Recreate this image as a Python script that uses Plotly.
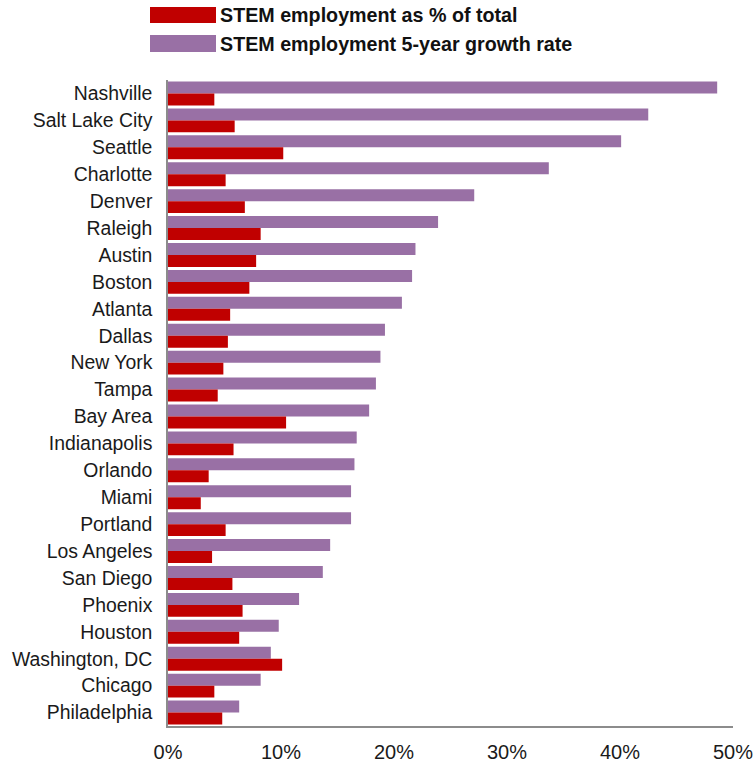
import plotly.graph_objects as go

# Metro areas, ordered by 5-year STEM employment growth
cities = [
    "Nashville", "Salt Lake City", "Seattle", "Charlotte", "Denver", "Raleigh",
    "Austin", "Boston", "Atlanta", "Dallas", "New York", "Tampa", "Bay Area",
    "Indianapolis", "Orlando", "Miami", "Portland", "Los Angeles", "San Diego",
    "Phoenix", "Houston", "Washington, DC", "Chicago", "Philadelphia",
]

# STEM employment 5-year growth rate (%)
growth_rate = [
    48.6, 42.5, 40.1, 33.7, 27.1, 23.9,
    21.9, 21.6, 20.7, 19.2, 18.8, 18.4, 17.8,
    16.7, 16.5, 16.2, 16.2, 14.35, 13.7,
    11.6, 9.8, 9.1, 8.2, 6.3,
]

# STEM employment as % of total employment
share_of_total = [
    4.1, 5.9, 10.2, 5.1, 6.8, 8.2,
    7.8, 7.2, 5.5, 5.3, 4.9, 4.4, 10.45,
    5.8, 3.6, 2.9, 5.1, 3.9, 5.7,
    6.6, 6.3, 10.1, 4.1, 4.8,
]

x_ticks = [0, 10, 20, 30, 40, 50]
x_tick_labels = ["0%", "10%", "20%", "30%", "40%", "50%"]

RED = "#C00000"
PURPLE = "#9970A5"
FONT = "Liberation Sans, Arial, sans-serif"

W, H = 756, 763
L, R, T, B = 168, 23, 80, 37

fig = go.Figure()
fig.add_trace(go.Bar(
    y=cities, x=growth_rate, orientation="h",
    name="STEM employment 5-year growth rate",
    marker=dict(color=PURPLE, line=dict(width=0)),
))
fig.add_trace(go.Bar(
    y=cities, x=share_of_total, orientation="h",
    name="STEM employment as % of total",
    marker=dict(color=RED, line=dict(width=0)),
))

# Legend drawn by hand so the swatches are wide bars
def px_x(p):
    return (p - L) / (W - L - R)

def px_y(p):
    return 1 + (T - p) / (H - T - B)

legend_items = [
    ("STEM employment as % of total", RED, 7, 23),
    ("STEM employment 5-year growth rate", PURPLE, 35, 52),
]
shapes = []
annotations = []
for label, color, y0, y1 in legend_items:
    shapes.append(dict(
        type="rect", xref="paper", yref="paper",
        x0=px_x(150), x1=px_x(216), y0=px_y(y1), y1=px_y(y0),
        fillcolor=color, line=dict(width=0),
    ))
    annotations.append(dict(
        xref="paper", yref="paper", x=px_x(218), y=px_y((y0 + y1) / 2),
        xanchor="left", yanchor="middle", showarrow=False,
        text=f"<b>{label}</b>",
        font=dict(family=FONT, size=19.7, color="#111111"),
    ))

fig.update_layout(
    width=W, height=H,
    margin=dict(l=L, r=R, t=T, b=B, pad=0, autoexpand=False),
    paper_bgcolor="white", plot_bgcolor="white",
    barmode="group", bargap=0.11, bargroupgap=0,
    showlegend=False,
    shapes=shapes, annotations=annotations,
    font=dict(family=FONT, size=19, color="#1a1a1a"),
)
fig.update_yaxes(
    autorange="reversed", showgrid=False, zeroline=False,
    showline=True, linecolor="#8c8c8c", linewidth=1.5,
    ticks="", ticklabelstandoff=10, automargin=False,
    tickfont=dict(family=FONT, size=19.4, color="#1a1a1a"),
)
fig.update_xaxes(
    range=[0, 50], tickvals=x_ticks, ticktext=x_tick_labels,
    showgrid=False, zeroline=False,
    showline=True, linecolor="#8c8c8c", linewidth=1.5,
    ticks="", ticklabelstandoff=7, automargin=False,
    tickfont=dict(family=FONT, size=20, color="#1a1a1a"),
)

fig.write_html("out.html")
